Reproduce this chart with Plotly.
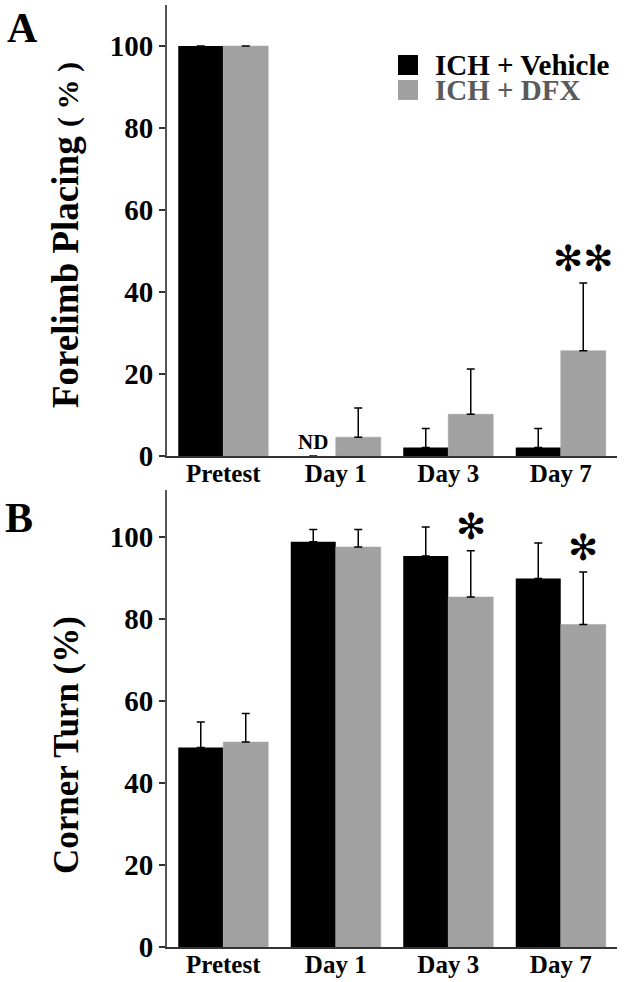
import plotly.graph_objects as go

categories = ["Pretest", "Day 1", "Day 3", "Day 7"]

a_vehicle = [100, 0, 2.1, 2.1]
a_vehicle_err = [0, 0, 4.6, 4.6]
a_dfx = [100, 4.6, 10.2, 25.7]
a_dfx_err = [0, 7.1, 11.0, 16.5]

b_vehicle = [48.7, 98.9, 95.4, 89.9]
b_vehicle_err = [6.2, 3.0, 7.1, 8.7]
b_dfx = [50.0, 97.6, 85.4, 78.7]
b_dfx_err = [7.0, 4.3, 11.3, 12.8]

a_sig = ["", "", "", "✻✻"]
b_sig = ["", "", "✻", "✻"]

FONT = "Times New Roman, Liberation Serif, serif"
DFX_PATTERN = dict(shape=".", fgcolor="#ffffff", bgcolor="#6e6e6e", size=2, solidity=0.35, fillmode="replace")

fig = go.Figure()

def add_panel(veh, veh_err, dfx, dfx_err, xa, ya):
    fig.add_trace(go.Bar(
        x=categories, y=veh, name="ICH + Vehicle", showlegend=False,
        marker=dict(color="black", line=dict(width=0)),
        error_y=dict(type="data", array=veh_err, arrayminus=[0]*len(veh_err), symmetric=False,
                     color="black", thickness=1.5, width=4),
        xaxis=xa, yaxis=ya))
    fig.add_trace(go.Bar(
        x=categories, y=dfx, name="ICH + DFX", showlegend=False,
        marker=dict(color="#a0a0a0", pattern=DFX_PATTERN, line=dict(width=0.5, color="#a0a0a0")),
        error_y=dict(type="data", array=dfx_err, arrayminus=[0]*len(dfx_err), symmetric=False,
                     color="black", thickness=1.5, width=4),
        xaxis=xa, yaxis=ya))

add_panel(a_vehicle, a_vehicle_err, a_dfx, a_dfx_err, "x", "y")
add_panel(b_vehicle, b_vehicle_err, b_dfx, b_dfx_err, "x2", "y2")

STAR_FONT = dict(family="DejaVu Sans", size=36, color="black")
annotations = []
for i, s in enumerate(a_sig):
    if s:
        annotations.append(dict(x=i + 0.2, y=a_dfx[i] + a_dfx_err[i] + 6, xref="x", yref="y", text=s,
                                xanchor="center", yanchor="middle", showarrow=False, font=STAR_FONT))
for i, s in enumerate(b_sig):
    if s:
        annotations.append(dict(x=i + 0.2, y=b_dfx[i] + b_dfx_err[i] + 6, xref="x2", yref="y2", text=s,
                                xanchor="center", yanchor="middle", showarrow=False, font=STAR_FONT))
annotations.append(dict(x=0.8, y=0, xref="x", yref="y", text="ND", xanchor="center", yanchor="bottom",
                        showarrow=False, font=dict(family=FONT, size=21, color="black", weight="bold")))
# panel letters
annotations.append(dict(x=-0.3222, y=0.9756, xref="paper", yref="paper", text="A", showarrow=False,
                        xanchor="center", yanchor="middle",
                        font=dict(family=FONT, size=42, color="black", weight="bold")))
annotations.append(dict(x=-0.3289, y=0.4554, xref="paper", yref="paper", text="B", showarrow=False,
                        xanchor="center", yanchor="middle",
                        font=dict(family=FONT, size=42, color="black", weight="bold")))
# axis titles
annotations.append(dict(x=-0.2267, y=0.7558, xref="paper", yref="paper",
                        text="Forelimb Placing <span style='font-size:30px'>( % )</span>",
                        textangle=-90, showarrow=False, xanchor="center", yanchor="middle",
                        font=dict(family=FONT, size=37, color="black", weight="bold")))
annotations.append(dict(x=-0.2244, y=0.2144, xref="paper", yref="paper", text="Corner Turn (%)",
                        textangle=-90, showarrow=False, xanchor="center", yanchor="middle",
                        font=dict(family=FONT, size=35, color="black", weight="bold")))
# legend (manual)
LEG_FONT = dict(family=FONT, size=29, weight="bold")
annotations.append(dict(x=0.5911, y=0.9363, xref="paper", yref="paper", text="ICH + Vehicle",
                        xanchor="left", yanchor="middle", showarrow=False,
                        font=dict(**LEG_FONT, color="black")))
annotations.append(dict(x=0.5911, y=0.9098, xref="paper", yref="paper", text="ICH + DFX",
                        xanchor="left", yanchor="middle", showarrow=False,
                        font=dict(**LEG_FONT, color="#5a5a5a")))
shapes = [
    dict(type="rect", xref="paper", yref="paper", x0=0.5133, x1=0.5578, y0=0.9257, y1=0.9469,
         fillcolor="black", line=dict(width=0)),
    dict(type="rect", xref="paper", yref="paper", x0=0.5133, x1=0.5578, y0=0.8992, y1=0.9204,
         fillcolor="#a0a0a0", line=dict(width=0)),
]

xcommon = dict(range=[-0.5, 3.5], showline=True, linecolor="#333", linewidth=2, ticks="",
               tickfont=dict(family=FONT, size=25, color="black", weight="bold"), showgrid=False,
               zeroline=False, domain=[0, 1], automargin=False, ticklabelstandoff=-6)
ycommon = dict(showline=True, linecolor="#555", linewidth=2, ticks="outside", ticklen=6, tickwidth=1.5,
               tickcolor="#333", dtick=20, tickfont=dict(family=FONT, size=29, color="black", weight="bold"),
               showgrid=False, zeroline=False, automargin=False)

fig.update_layout(
    width=624, height=982,
    margin=dict(l=167, r=7, t=5, b=35),
    paper_bgcolor="white", plot_bgcolor="white",
    barmode="group", bargap=0.2, bargroupgap=0,
    xaxis=dict(**xcommon, anchor="y"),
    yaxis=dict(**ycommon, range=[0, 110], domain=[0.5212, 1], anchor="x"),
    xaxis2=dict(**xcommon, anchor="y2"),
    yaxis2=dict(**ycommon, range=[0, 111.5], domain=[0, 0.4851], anchor="x2"),
    annotations=annotations,
    shapes=shapes,
    showlegend=False,
)

fig.write_html(
    "out.html",
    config={"displayModeBar": False},
    post_script="document.body.style.margin='0';document.documentElement.style.overflow='hidden';",
)
